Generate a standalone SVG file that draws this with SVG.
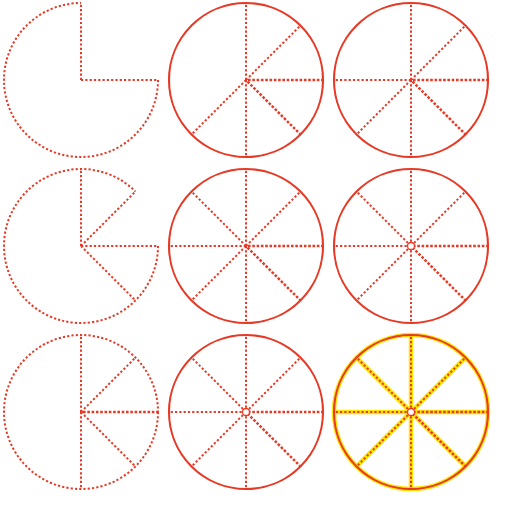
<svg xmlns="http://www.w3.org/2000/svg" xmlns:xlink="http://www.w3.org/1999/xlink" width="512" height="512" viewBox="0 0 512 512">
<style>
.d{fill:none;stroke:#e63a26;stroke-width:2;stroke-dasharray:2.2 2.1}
.dd{fill:none;stroke:#e63a26;stroke-width:2.5;stroke-dasharray:2.6 1.7}
.ring{fill:none;stroke:#e63a26;stroke-width:2.1}
.hole{fill:#fff;stroke:#e63a26;stroke-width:1.3}
.y{fill:none;stroke:#ffe600;stroke-width:4.5}
</style>
<defs>
<path id="rT" class="d" d="M0,0 L0,-77"/>
<path id="rUR" class="d" d="M0,0 L54.45,-54.45"/>
<path id="rR" class="d" d="M0,0 L77,0"/>
<path id="rLR" class="d" d="M0,0 L54.45,54.45"/>
<path id="rB" class="d" d="M0,0 L0,77"/>
<path id="rLL" class="d" d="M0,0 L-54.45,54.45"/>
<path id="rL" class="d" d="M0,0 L-77,0"/>
<path id="rUL" class="d" d="M0,0 L-54.45,-54.45"/>
<path id="rRd" class="dd" d="M2,0 L77,0"/>
<path id="rLRd" class="dd" d="M1.5,1.5 L54.45,54.45"/>
<g id="all">
<use xlink:href="#rT"/><use xlink:href="#rUR"/><use xlink:href="#rRd"/><use xlink:href="#rLRd"/>
<use xlink:href="#rB"/><use xlink:href="#rLL"/><use xlink:href="#rL"/><use xlink:href="#rUL"/>
</g>
</defs>
<rect width="512" height="512" fill="#fff"/>
<g id="frame1" transform="translate(81,80)">
<path class="d" d="M77,0 A77,77 0 1 1 0,-77"/>
<use xlink:href="#rT"/><use xlink:href="#rR"/>
</g>
<g id="frame2" transform="translate(246,80)">
<circle class="ring" r="77"/>
<use xlink:href="#rT"/><use xlink:href="#rUR"/><use xlink:href="#rRd"/><use xlink:href="#rLRd"/><use xlink:href="#rB"/><use xlink:href="#rLL"/>
</g>
<g id="frame3" transform="translate(411,80)">
<circle class="ring" r="77"/>
<use xlink:href="#rT"/><use xlink:href="#rUR"/><use xlink:href="#rRd"/><use xlink:href="#rLRd"/><use xlink:href="#rB"/><use xlink:href="#rLL"/><use xlink:href="#rL"/>
</g>
<g id="frame4" transform="translate(81,246)">
<path class="d" d="M77,0 A77,77 0 1 1 54.45,-54.45"/>
<use xlink:href="#rT"/><use xlink:href="#rUR"/><use xlink:href="#rR"/><use xlink:href="#rLR"/>
</g>
<g id="frame5" transform="translate(246,246)">
<circle class="ring" r="77"/>
<use xlink:href="#all"/>
</g>
<g id="frame6" transform="translate(411,246)">
<circle class="ring" r="77"/>
<use xlink:href="#all"/>
<circle class="hole" r="3.5"/>
</g>
<g id="frame7" transform="translate(81,412)">
<circle class="d" r="77"/>
<use xlink:href="#rT"/><use xlink:href="#rUR"/><use xlink:href="#rRd"/><use xlink:href="#rLR"/><use xlink:href="#rB"/>
</g>
<g id="frame8" transform="translate(246,412)">
<circle class="ring" r="77"/>
<use xlink:href="#all"/>
<circle class="hole" r="3.5"/>
</g>
<g id="frame9" transform="translate(411,412)">
<circle class="y" r="77"/>
<path class="y" d="M0,-77 V77 M-77,0 H77 M-54.45,-54.45 L54.45,54.45 M54.45,-54.45 L-54.45,54.45"/>
<circle class="ring" r="77"/>
<use xlink:href="#all"/>
<circle class="hole" r="3.5"/>
</g>
</svg>
